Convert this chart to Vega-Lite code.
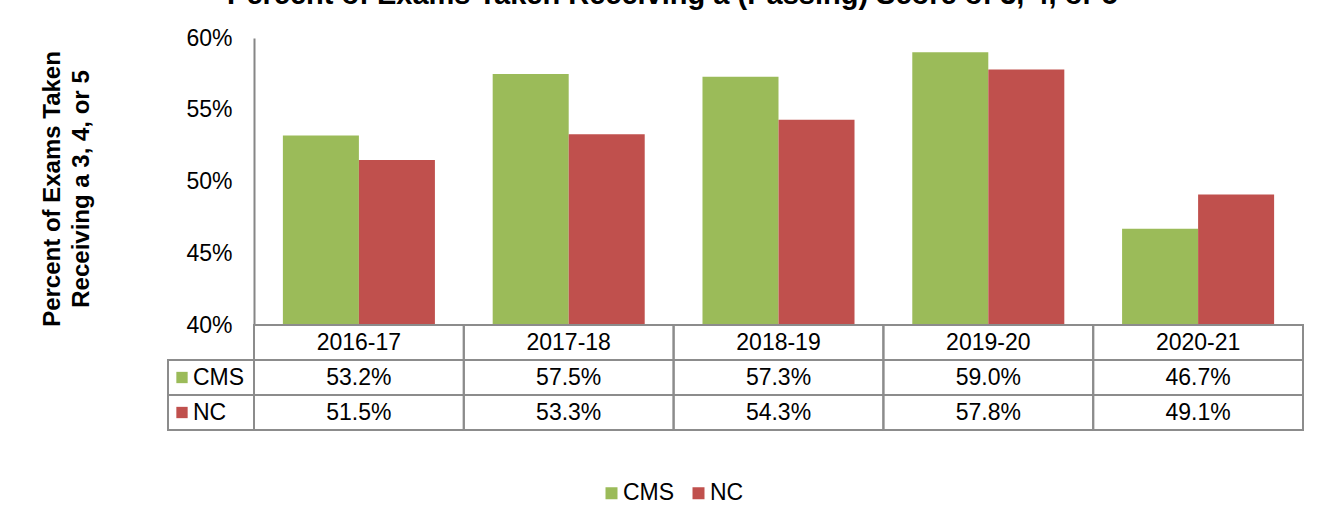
{
  "$schema": "https://vega.github.io/schema/vega-lite/v6.json",
  "padding": {"left": 40, "top": -20, "right": 28, "bottom": 10},
  "background": "white",
  "title": {"text": "Percent of Exams Taken Receiving a (Passing) Score of 3, 4, or 5", "font": "Liberation Sans", "fontSize": 29, "fontWeight": "bold", "color": "black", "anchor": "middle", "frame": "bounds", "offset": 17.5},
  "data": {"values": [
    {"year": "2016-17", "series": "CMS", "value": 0.532},
    {"year": "2016-17", "series": "NC", "value": 0.515},
    {"year": "2017-18", "series": "CMS", "value": 0.575},
    {"year": "2017-18", "series": "NC", "value": 0.533},
    {"year": "2018-19", "series": "CMS", "value": 0.573},
    {"year": "2018-19", "series": "NC", "value": 0.543},
    {"year": "2019-20", "series": "CMS", "value": 0.590},
    {"year": "2019-20", "series": "NC", "value": 0.578},
    {"year": "2020-21", "series": "CMS", "value": 0.467},
    {"year": "2020-21", "series": "NC", "value": 0.491}
  ]},
  "columns": 2,
  "spacing": 0,
  "bounds": "flush",
  "align": "each",
  "resolve": {"scale": {"color": "shared"}},
  "concat": [
    {
      "width": 86, "height": 287,
      "transform": [{"aggregate": [{"op": "count", "as": "n"}]}],
      "mark": {"type": "text", "text": ""},
      "encoding": {}
    },
    {
      "width": 1049, "height": 287,
      "mark": {"type": "bar"},
      "encoding": {
        "x": {"field": "year", "type": "nominal", "scale": {"paddingInner": 0, "paddingOuter": 0}, "axis": null},
        "xOffset": {"field": "series", "type": "nominal", "sort": ["CMS", "NC"], "scale": {"paddingInner": 0, "paddingOuter": 0.38}},
        "y": {"field": "value", "type": "quantitative", "scale": {"domain": [0.4, 0.6], "zero": false, "nice": false},
          "axis": {"values": [0.4, 0.45, 0.5, 0.55, 0.6], "format": ".0%", "ticks": false, "grid": false, "labelFlush": false, "labelOverlap": false,
            "domainColor": "#868686", "domainWidth": 2, "labelFont": "Liberation Sans", "labelFontSize": 23, "labelColor": "black", "labelPadding": 22,
            "title": ["Percent of Exams Taken", "Receiving a 3, 4, or 5"], "titleFont": "Liberation Sans", "titleFontSize": 24, "titleFontWeight": "bold", "titleColor": "black", "titlePadding": 92, "titleLineHeight": 29, "titleY": 150.5}},
        "y2": {"datum": 0.4},
        "color": {"field": "series", "type": "nominal", "scale": {"domain": ["CMS", "NC"], "range": ["#9BBB59", "#C0504D"]},
          "legend": {"orient": "none", "legendX": 432, "legendY": 443.5, "direction": "horizontal", "title": null, "symbolType": "square", "symbolSize": 144, "symbolStrokeWidth": 0, "labelFont": "Liberation Sans", "labelFontSize": 23, "labelColor": "black", "labelOffset": 0, "columnPadding": 12, "padding": 0}}
      }
    },
    {
      "width": 86, "height": 105,
      "transform": [{"aggregate": [{"op": "count", "as": "n"}], "groupby": ["series"]}],
      "encoding": {"y": {"field": "series", "type": "nominal", "scale": {"domain": ["Year", "CMS", "NC"], "paddingInner": 0, "paddingOuter": 0}, "axis": null}},
      "layer": [
        {"mark": {"type": "rect", "fill": "transparent", "stroke": "#8c8c8c", "strokeWidth": 2}},
        {"mark": {"type": "point", "shape": "square", "filled": true, "size": 128, "opacity": 1, "xOffset": -29},
          "encoding": {"color": {"field": "series", "type": "nominal", "scale": {"domain": ["CMS", "NC"], "range": ["#9BBB59", "#C0504D"]},
            "legend": {"orient": "none", "legendX": 432, "legendY": 443.5, "direction": "horizontal", "title": null, "symbolType": "square", "symbolSize": 144, "symbolStrokeWidth": 0, "labelFont": "Liberation Sans", "labelFontSize": 23, "labelColor": "black", "labelOffset": 0, "columnPadding": 12, "padding": 0}}}},
        {"mark": {"type": "text", "align": "left", "dx": -18, "font": "Liberation Sans", "fontSize": 23, "color": "black"},
          "encoding": {"text": {"field": "series", "type": "nominal"}}}
      ]
    },
    {
      "width": 1049, "height": 105,
      "encoding": {"x": {"field": "year", "type": "nominal", "scale": {"paddingInner": 0, "paddingOuter": 0}, "axis": null}},
      "layer": [
        {"mark": {"type": "rect", "fill": "transparent", "stroke": "#8c8c8c", "strokeWidth": 2},
          "encoding": {"y": {"field": "series", "type": "nominal", "scale": {"domain": ["Year", "CMS", "NC"], "paddingInner": 0, "paddingOuter": 0}, "axis": null}}},
        {"transform": [{"aggregate": [{"op": "count", "as": "n"}], "groupby": ["year"]}],
          "mark": {"type": "rect", "fill": "transparent", "stroke": "#8c8c8c", "strokeWidth": 2},
          "encoding": {"y": {"datum": "Year", "type": "nominal", "scale": {"domain": ["Year", "CMS", "NC"], "paddingInner": 0, "paddingOuter": 0}, "axis": null}}},
        {"mark": {"type": "text", "font": "Liberation Sans", "fontSize": 23, "color": "black"},
          "encoding": {"y": {"field": "series", "type": "nominal", "axis": null}, "text": {"field": "value", "type": "quantitative", "format": ".1%"}}},
        {"transform": [{"aggregate": [{"op": "count", "as": "n"}], "groupby": ["year"]}],
          "mark": {"type": "text", "font": "Liberation Sans", "fontSize": 23, "color": "black"},
          "encoding": {"y": {"datum": "Year", "type": "nominal", "axis": null}, "text": {"field": "year", "type": "nominal"}}}
      ]
    }
  ],
  "config": {
    "view": {"stroke": null},
    "font": "Liberation Sans"
  }
}
